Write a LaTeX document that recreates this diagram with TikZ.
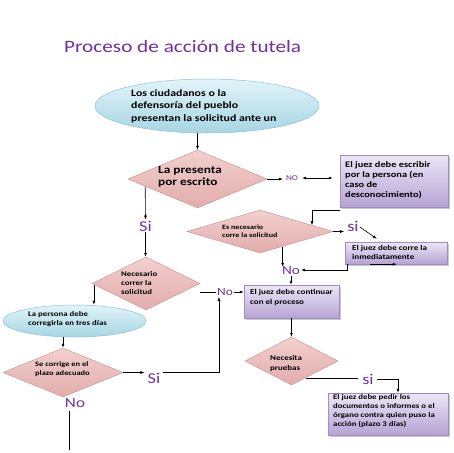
\documentclass[tikz,border=0pt]{standalone}
\usepackage{fontspec}
\newfontfamily\cf[FakeStretch=1.22]{Carlito}
\usetikzlibrary{shapes.geometric,arrows.meta,shadows,calc}
\definecolor{lab}{RGB}{112,48,160}
\definecolor{pinkT}{RGB}{242,208,206}
\definecolor{pinkB}{RGB}{226,172,172}
\definecolor{pinkD}{RGB}{205,150,150}
\definecolor{bluT}{RGB}{226,244,249}
\definecolor{bluB}{RGB}{166,213,227}
\definecolor{bluD}{RGB}{140,195,215}
\definecolor{boxT}{RGB}{236,231,246}
\definecolor{boxB}{RGB}{182,162,212}
\definecolor{boxD}{RGB}{160,140,196}
\tikzset{
  dia/.style={shape=diamond, inner sep=0pt, draw=pinkD, line width=0.5pt, top color=pinkT, bottom color=pinkB},
  ell/.style={shape=ellipse, inner sep=0pt, draw=bluD, line width=0.5pt, top color=bluT, bottom color=bluB},
  box/.style={shape=rectangle, inner sep=0pt, draw=boxD, line width=0.5pt, top color=boxT, bottom color=boxB,
     drop shadow={shadow xshift=1.5pt, shadow yshift=-1.5pt, opacity=0.35, fill=black!60}},
  txt/.style={inner sep=0pt, align=left, anchor=west, text=black},
  lbl/.style={inner sep=1pt, text=lab},
  con/.style={draw=black, line width=0.6pt},
  arr/.style={con, -{Latex[length=4pt,width=3pt]}},
}
\newcommand{\fs}[2]{\cf\bfseries\fontsize{#1}{#2}\selectfont}
\newcommand{\fl}[1]{\cf\fontsize{#1}{#1}\selectfont}
\begin{document}
\begin{tikzpicture}[x=1pt,y=-1pt]
\fill[white] (0,0) rectangle (453,453);
\useasboundingbox (0,0) rectangle (453,453);

% title
\node[anchor=west, inner sep=0pt, text=lab, font=\fl{17.4}] (title) at (64,47) {Proceso de acción de tutela};

% shapes
\node[ell, minimum width=224, minimum height=54] (e1) at (207,106) {};
\node[txt, font=\fs{9.7}{12.5}] (e1t) at (131,106) {Los ciudadanos o la\\defensoría del pueblo\\presentan la solicitud ante un};

\node[dia, minimum width=139, minimum height=58] (d1) at (197.5,179) {};
\node[txt, font=\fs{10.9}{12}] (d1t) at (158,177) {La presenta\\por escrito};

\node[box, minimum width=108, minimum height=52] (b1) at (394,181) {};
\node[txt, font=\fs{8.5}{10}] (b1t) at (345,180.5) {El juez debe escribir\\por la persona (en\\caso de\\desconocimiento)};

\node[dia, minimum width=146, minimum height=43] (d2) at (260,231.5) {};
\node[txt, font=\fs{6.6}{7.8}] (d2t) at (222,231) {Es necesario\\corre la solicitud};

\node[box, minimum width=102, minimum height=22] (b2) at (396,253) {};
\node[txt, font=\fs{7.4}{9}] (b2t) at (352,252.5) {El juez debe corre la\\inmediatamente};

\node[box, minimum width=95, minimum height=33] (b3) at (291.5,301.5) {};
\node[txt, font=\fs{7.4}{10}] (b3t) at (250,297) {El juez debe continuar\\con el proceso};

\node[dia, minimum width=108, minimum height=53] (d3) at (146,283.5) {};
\node[txt, font=\fs{7.2}{9}] (d3t) at (121,283) {Necesario\\correr la\\solicitud};

\node[ell, minimum width=143, minimum height=32] (e2) at (74.5,321) {};
\node[txt, font=\fs{7.2}{9}] (e2t) at (28,319.5) {La persona debe\\corregirla en tres días};

\node[dia, minimum width=120, minimum height=49] (d4) at (63,372.5) {};
\node[txt, font=\fs{6.9}{9}] (d4t) at (35,369.5) {Se corrige en el\\plazo adecuado};

\node[dia, minimum width=93, minimum height=48] (d5) at (291.5,361) {};
\node[txt, font=\fs{7.3}{10}] (d5t) at (270,364) {Necesita\\pruebas};

\node[box, minimum width=120, minimum height=42] (b4) at (388,414) {};
\node[txt, font=\fs{7.2}{9}] (b4t) at (333,411.5) {El juez debe pedir los\\documentos o informes o el\\órgano contra quien puso la\\acción (plazo 3 días)};

% labels
\node[lbl, font=\fl{7.5}] (no1) at (292,178) {NO};
\node[lbl, font=\fl{15}] (si1) at (145.5,226) {Si};
\node[lbl, font=\fl{15}] (si2) at (353,226) {si};
\node[lbl, font=\fl{12.5}] (no2) at (291,271) {No};
\node[lbl, font=\fl{11}] (no3) at (225,292) {No};
\node[lbl, font=\fl{15}] (si3) at (154,378) {Si};
\node[lbl, font=\fl{14}] (no4) at (75,403) {No};
\node[lbl, font=\fl{15}] (si4) at (368,379) {si};

% helper coordinates
\coordinate (d1l) at ($(d1.west)!0.25!(d1.south)$);
\coordinate (d2t) at ($(d2.north)!0.71!(d2.east)$);
\coordinate (d2b) at ($(d2.south)!0.31!(d2.east)$);
\coordinate (d3l) at ($(d3.west)!0.04!(d3.south)$);
\coordinate (d5e) at ($(d5.south)!0.3!(d5.east)$);
\coordinate (no3in) at ([xshift=3pt]no3.south west);
\coordinate (endNo) at ($(no4.south)+(-6,41)$);

% connectors
\draw[arr] (e1.south -| d1.north) -- (d1.north);
\draw[arr] (d1.east) -- ([xshift=-2pt]d1.east -| no1.west);
\draw[con, {Latex[length=4pt,width=3pt]}-{Latex[length=4pt,width=3pt]}] ([xshift=3pt]no1.east) -- ([xshift=-7pt]no1.east -| b1.west);
\draw[arr] (d1l) -- (si1.north);
\draw[arr] (si1.south) -- (si1.south |- d3.north);
\draw[arr] ([yshift=-3pt]b1.south west) -| (d2t);
\draw[arr] (d2.east) -- ([xshift=-2pt]d2.east -| si2.west);
\draw[arr] ([yshift=-1pt]si2.east) -- ([shift={(32,-3)}]b2.north west);
\draw[arr] (d2b) -- ([yshift=-1pt]d2b |- no2.north);
\draw[arr] ([xshift=3pt]b2.south west) |- ([yshift=1pt]no2.east);
\draw[arr] ([xshift=25pt]b2.south west) -- ([xshift=52pt]b2.south west);
\draw[arr] (no2.south) -- (no2.south |- b3.north);
\draw[con] ([yshift=-8.5pt]d3.east) -- ([yshift=-8.5pt]d3.east -| no3.west);
\draw[arr] (no3.east) -- (no3.east -| b3.west);
\draw[arr] (d3l) -- (d3l |- e2.north);
\draw[arr] (d4.north |- e2.south) -- (d4.north);
\draw[arr] (d4.east) -- ([xshift=-2pt]d4.east -| si3.west);
\draw[arr] ([xshift=1pt]si3.east |- d4.east) -| (no3in);
\draw[con] ([xshift=-6pt,yshift=-2pt]no4.south) -- (endNo);
\draw[arr] (b3.south) -- (b3.south |- d5.north);
\draw[con] (d5e) -- ([xshift=-3pt]d5e -| si4.west);
\draw[arr] ([xshift=2pt]si4.east) -| ([xshift=10pt]b4.north);
\end{tikzpicture}
\end{document}
